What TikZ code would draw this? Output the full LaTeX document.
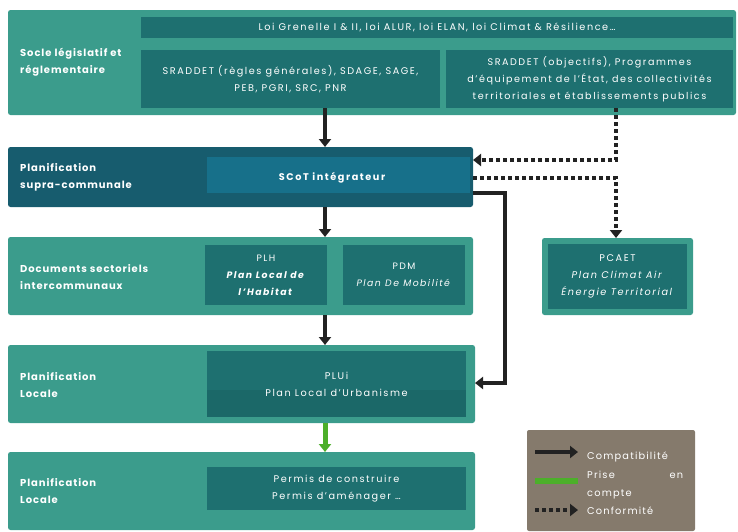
\documentclass[tikz,border=0pt]{standalone}
\usepackage{fontspec}
\setmainfont{Poppins}[LetterSpace=16]
\newfontfamily\lblfont{Poppins}[LetterSpace=9]
\newfontfamily\legfont{Poppins}[LetterSpace=12]
\usetikzlibrary{arrows.meta}
\definecolor{tealL}{HTML}{3B9C8C}
\definecolor{tealD}{HTML}{1E7070}
\definecolor{tealDD}{HTML}{1B6868}
\definecolor{navy}{HTML}{175C6E}
\definecolor{scot}{HTML}{17708A}
\definecolor{legendc}{HTML}{857A6C}
\definecolor{greenA}{HTML}{4CAF2A}
\definecolor{blk}{HTML}{222222}
\tikzset{
  box/.style={inner sep=0pt, outer sep=0pt, draw=none},
  outerbox/.style={box, fill=tealL, rounded corners=2.5pt},
  innerbox/.style={box, fill=tealD},
  lbl/.style={text=white, font=\lblfont\fontsize{10}{17}\selectfont\bfseries, align=left, anchor=west, inner sep=0pt},
  itxt/.style={text=white, font=\fontsize{9.7}{17}\selectfont, align=center},
  legtxt/.style={text=white, font=\legfont\fontsize{9.8}{18}\selectfont, align=left, anchor=west, inner sep=0pt},
  compat/.style={draw=blk, line width=4.5pt, -{Triangle[length=8pt,width=12pt]}},
  conf/.style={draw=blk, line width=4pt, dash pattern=on 4pt off 3pt, -{Triangle[length=8pt,width=12pt]}},
  prise/.style={draw=greenA, line width=5pt, -{Triangle[length=8pt,width=12pt]}},
}
\begin{document}
\begin{tikzpicture}[x=1pt,y=-1pt]
\useasboundingbox (0,0) rectangle (738,531);
% Row 1
\node[outerbox, minimum width=728pt, minimum height=105pt] (r1) at (372,62.5) {};
\node[innerbox, minimum width=592pt, minimum height=21pt] (lois) at (437,27.5) {};
\node[itxt] at (lois.center) {Loi Grenelle I \& II, loi ALUR, loi ELAN, loi Climat \& Résilience…};
\node[innerbox, minimum width=299pt, minimum height=58pt] (inL) at (290.5,79) {};
\node[itxt] at (inL.center) {SRADDET (règles générales), SDAGE, SAGE,\\PEB, PGRI, SRC, PNR};
\node[innerbox, minimum width=287pt, minimum height=58pt] (inR) at (589.5,79) {};
\node[itxt, font=\fontsize{9.6}{17}\selectfont] at (inR.center) {SRADDET (objectifs), Programmes\\d'équipement de l'État, des collectivités\\territoriales et établissements publics};
\node[lbl] (l1) at (20,62) {Socle législatif et\\réglementaire};
% Row 2
\node[box, fill=navy, rounded corners=2.5pt, minimum width=465pt, minimum height=60pt] (r2) at (240.5,177) {};
\node[box, fill=scot, minimum width=263pt, minimum height=36pt] (scot) at (338.5,175) {};
\node[itxt, font=\fontsize{9.7}{17}\selectfont\bfseries] at (332,178) {SCoT intégrateur};
\node[lbl] (l2) at (20,177) {Planification\\supra-communale};
% Row 3
\node[outerbox, minimum width=465pt, minimum height=78pt] (r3) at (240.5,276) {};
\node[innerbox, minimum width=122pt, minimum height=60pt] (plh) at (266,275) {};
\node[itxt, font=\fontsize{9.3}{17}\selectfont] at (plh.center) {PLH\\\textbf{\textit{Plan Local de}}\\\textbf{\textit{l'Habitat}}};
\node[innerbox, minimum width=122pt, minimum height=60pt] (pdm) at (404,275) {};
\node[itxt, font=\fontsize{9.3}{17}\selectfont] at (pdm.center) {PDM\\\textit{Plan De Mobilité}};
\node[lbl] (l3) at (20,277) {Documents sectoriels\\intercommunaux};
% PCAET
\node[outerbox, minimum width=151pt, minimum height=77pt] (pc) at (617.5,276.5) {};
\node[innerbox, minimum width=139pt, minimum height=65pt] (pcin) at (617.5,276.5) {};
\node[itxt] at (pcin.center) {PCAET\\\textit{Plan Climat Air}\\\textit{Énergie Territorial}};
% Row 4
\node[outerbox, minimum width=467pt, minimum height=78pt] (r4) at (241.5,384) {};
\node[innerbox, minimum width=259pt, minimum height=66pt] (plui) at (336.5,384) {};
\node[box, fill=tealDD, minimum width=259pt, minimum height=27pt] (pluib) at (336.5,403.5) {};
\node[itxt] at (plui.center) {PLUi\\Plan Local d'Urbanisme};
\node[lbl] (l4) at (20,385) {Planification\\Locale};
% Row 5
\node[outerbox, minimum width=467pt, minimum height=78pt] (r5) at (241.5,491) {};
\node[innerbox, minimum width=259pt, minimum height=43pt] (perm) at (336.5,488.5) {};
\node[itxt] at (perm.center) {Permis de construire\\Permis d'aménager …};
\node[lbl] (l5) at (20,491) {Planification\\Locale};
% Legend
\node[box, fill=legendc, rounded corners=2pt, minimum width=168pt, minimum height=101pt] (leg) at (611,480.5) {};
\coordinate (ls1) at (535,452); \coordinate (le1) at (578,452);
\coordinate (ls2) at (535,481); \coordinate (le2) at (578,481);
\coordinate (ls3) at (535,510); \coordinate (le3) at (578,510);
\draw[compat] (ls1) -- (le1);
\draw[draw=greenA, line width=6pt] (ls2) -- (le2);
\draw[conf] (ls3) -- (le3);
\node[legtxt] (t1) at (587,457) {Compatibilité};
\node[legtxt, text width=96pt] (t2) at (587,485) {Prise\hfill en\\compte};
\node[legtxt] (t3) at (587,511) {Conformité};
% Connectors
\coordinate (ax) at (325,0);
\coordinate (bx) at (505,0);
\coordinate (dx) at (616,0);
\draw[compat] (inL.south -| ax) -- (r2.north -| ax);
\draw[compat] (r2.south -| ax) -- (r3.north -| ax);
\draw[compat] (r3.south -| ax) -- (r4.north -| ax);
\draw[prise] (r4.south -| ax) -- (r5.north -| ax);
\coordinate (b1) at (473,193);
\coordinate (b2) at (475,383);
\draw[compat] (b1) -- (b1 -| bx) -- (b2 -| bx) -- (b2);
\coordinate (d1) at (473,160);
\draw[conf] (inR.south -| dx) -- (d1 -| dx) -- (d1);
\coordinate (d2) at (473,178);
\draw[conf] (d2) -- (d2 -| dx) -- (pc.north -| dx);
\end{tikzpicture}
\end{document}
